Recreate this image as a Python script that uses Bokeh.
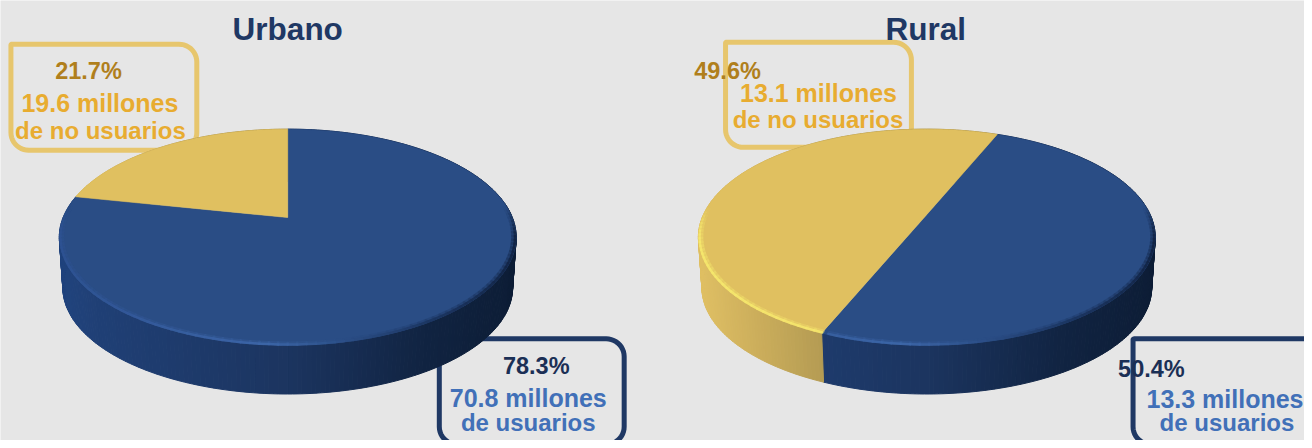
import numpy as np
from bokeh.plotting import figure
from bokeh.models import Range1d
from bokeh.core.properties import value
from bokeh.embed import file_html
from bokeh.resources import INLINE

# ---- data ----
titles = ["Urbano", "Rural"]
urban_shares = [78.3, 21.7]   # usuarios, no usuarios
rural_shares = [50.4, 49.6]
urban_millions = [70.8, 19.6]
rural_millions = [13.3, 13.1]
millions_unit = "millones"
user_labels = ["de usuarios", "de no usuarios"]

# ---- styles ----
BG = "#e6e6e6"
NAVY = "#1f3864"
PCT_BLUE = "#1b2f55"
MIL_BLUE = "#4170b8"
PCT_GOLD = "#b07f1c"
MIL_GOLD = "#e8ac30"
BOX_GOLD = "#e7c66d"
TOP = ["#2a4d85", "#e0c060"]
FONT = value("Liberation Sans")

K, A, B = 0.1818, 226.0, 106.4
WALL_STOPS = [
    [(0, (33, 68, 126)), (0.08, (32, 64, 118)), (0.5, (28, 53, 96)), (0.8, (17, 36, 66)), (1, (13, 29, 54))],
    [(0, (224, 192, 100)), (0.12, (205, 175, 92)), (0.3, (176, 152, 82)), (1, (140, 120, 60))],
]
RIM_STOPS = [
    [(0, (46, 82, 146)), (0.45, (62, 104, 170)), (0.6, (46, 82, 140)), (0.8, (28, 54, 98)), (1, (18, 36, 68))],
    [(0, (246, 232, 110)), (0.5, (244, 228, 108)), (1, (240, 220, 100))],
]


def mix(stops, t):
    xs = [s[0] for s in stops]
    rgb = [int(np.interp(t, xs, [s[1][i] for s in stops])) for i in range(3)]
    return "#%02x%02x%02x" % tuple(rgb)


def project(theta, cx, cy, s=1.0, dy=0.0):
    u, v = np.sin(theta), np.cos(theta)
    den = 1 + K * v * s
    return cx + A * s * u / den, cy + dy - B * s * v / den


def draw_pie(p, cx, cy, shares, start_deg, apex_dy=0.0):
    edges = start_deg + np.cumsum([0] + list(shares)) * 3.6
    # side wall
    xs, ys, cols = [], [], []
    for i in range(len(shares)):
        ths = np.radians(np.arange(edges[i], edges[i + 1] + 0.01, 1.0))
        ths = np.append(ths, np.radians(edges[i + 1]))
        for a, b in zip(ths[:-1], ths[1:]):
            if b <= a:
                continue
            x1, y1 = project(a, cx, cy)
            x2, y2 = project(b, cx, cy)
            x3, y3 = project(b, cx, cy, 0.985, 52.0)
            x4, y4 = project(a, cx, cy, 0.985, 52.0)
            xs.append([x1, x2, x3, x4])
            ys.append([y1, y2, y3, y4])
            cols.append(mix(WALL_STOPS[i], ((x1 + x2) / 2 - cx + 230) / 460))
    p.patches(xs, ys, fill_color=cols, line_color=cols, line_width=1)
    # top surface
    for i in range(len(shares)):
        ths = np.radians(np.linspace(edges[i], edges[i + 1], 240))
        x, y = project(ths, cx, cy)
        p.patch(np.r_[cx, x], np.r_[cy + apex_dy, y], fill_color=TOP[i], line_color=TOP[i], line_width=0.5)
    # soft rim highlight along the front edge
    for s, lw, alpha in [(0.985, 3, 0.3), (0.995, 2.5, 0.9)]:
        xs, ys, cols, alphas = [], [], [], []
        for i in range(len(shares)):
            ths = np.radians(np.arange(edges[i], edges[i + 1] + 0.01, 2.0))
            for a, b in zip(ths[:-1], ths[1:]):
                c = np.cos((a + b) / 2)
                if c > 0.1:
                    continue
                x1, y1 = project(a, cx, cy, s)
                x2, y2 = project(b, cx, cy, s)
                xs.append([x1, x2])
                ys.append([y1, y2])
                cols.append(mix(RIM_STOPS[i], ((x1 + x2) / 2 - cx + 230) / 460))
                alphas.append(alpha * min(1.0, (0.1 - c) / 0.3))
        p.multi_line(xs, ys, line_color=cols, line_width=lw, line_alpha=alphas, line_cap="round")


def draw_box(p, x0, y0, x1, y1, radii, color):
    """Outline with per-corner radii: top-left, top-right, bottom-right, bottom-left."""
    corners = [(x0, y0, 180, radii[0]), (x1, y0, 270, radii[1]), (x1, y1, 0, radii[2]), (x0, y1, 90, radii[3])]
    xs, ys = [], []
    for (x, y, a0, r), (sx, sy) in zip(corners, [(1, 1), (-1, 1), (-1, -1), (1, -1)]):
        ang = np.radians(np.linspace(a0, a0 + 90, 12))
        xs.extend(x + sx * r + r * np.cos(ang))
        ys.extend(y + sy * r + r * np.sin(ang))
    p.patch(xs, ys, fill_alpha=0, line_color=color, line_width=5, line_join="miter")


def label(p, x, y, text, color, size):
    # the SVG back end draws alphabetic text about a third of the size too low
    p.text([x], [y - 0.33 * size], text=[text], text_color=color, text_font=FONT, text_font_style="bold",
           text_font_size=f"{size}px", text_align="center", text_baseline="alphabetic")


p = figure(width=1304, height=440, output_backend="svg", toolbar_location=None,
           x_range=Range1d(0, 1312), y_range=Range1d(448, 0), min_border=0,
           background_fill_color=BG, border_fill_color=BG, outline_line_color=None)
p.axis.visible = False
p.grid.visible = False

# label boxes go behind the pies
draw_box(p, 10.5, 44.5, 197.5, 152.5, (1, 18, 18, 18), BOX_GOLD)
draw_box(p, 729.5, 42.5, 916.5, 149.5, (1, 18, 18, 18), BOX_GOLD)
draw_box(p, 441.5, 344.5, 627.5, 452, (1, 18, 18, 18), NAVY)
draw_box(p, 1139.5, 344.5, 1330, 452, (1, 18, 18, 18), NAVY)

draw_pie(p, 289, 221, urban_shares, 0.0)
draw_pie(p, 932, 221, rural_shares, 21.5, apex_dy=-3.0)

label(p, 289, 39, titles[0], NAVY, 31.5)
label(p, 931, 39, titles[1], NAVY, 31.5)

label(p, 88.5, 79.5, f"{urban_shares[1]}%", PCT_GOLD, 23.5)
label(p, 100, 113, f"{urban_millions[1]} {millions_unit}", MIL_GOLD, 25)
label(p, 100.5, 140, user_labels[1], MIL_GOLD, 24)

label(p, 731.5, 79.5, f"{rural_shares[1]}%", PCT_GOLD, 23.5)
label(p, 823, 102, f"{rural_millions[1]} {millions_unit}", MIL_GOLD, 25)
label(p, 822.5, 129.5, user_labels[1], MIL_GOLD, 24)

label(p, 539, 380, f"{urban_shares[0]}%", PCT_BLUE, 23.5)
label(p, 531, 413, f"{urban_millions[0]} {millions_unit}", MIL_BLUE, 25)
label(p, 531, 438, user_labels[0], MIL_BLUE, 24)

label(p, 1158, 383, f"{rural_shares[0]}%", PCT_BLUE, 23.5)
label(p, 1232, 414, f"{rural_millions[0]} {millions_unit}", MIL_BLUE, 25)
label(p, 1234, 438, user_labels[0], MIL_BLUE, 24)

open("out.html", "w").write(file_html(p, INLINE))
